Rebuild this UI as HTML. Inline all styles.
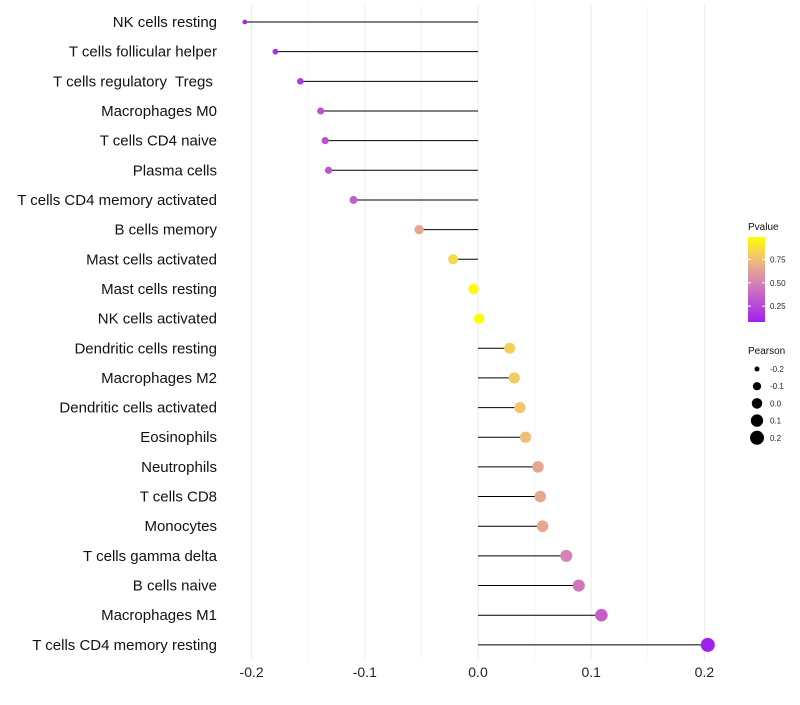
<!DOCTYPE html>
<html><head><meta charset="utf-8"><style>
body{margin:0;background:#fff;font-family:"Liberation Sans",sans-serif}
text{white-space:pre}
</style></head><body>
<svg id="c" width="800" height="700" xmlns="http://www.w3.org/2000/svg" xml:space="preserve"></svg>
<script>
const categories=["NK cells resting","T cells follicular helper","T cells regulatory  Tregs ","Macrophages M0","T cells CD4 naive","Plasma cells","T cells CD4 memory activated","B cells memory","Mast cells activated","Mast cells resting","NK cells activated","Dendritic cells resting","Macrophages M2","Dendritic cells activated","Eosinophils","Neutrophils","T cells CD8","Monocytes","T cells gamma delta","B cells naive","Macrophages M1","T cells CD4 memory resting"];
const pearson=[-0.206,-0.179,-0.157,-0.139,-0.135,-0.132,-0.110,-0.052,-0.022,-0.004,0.001,0.028,0.032,0.037,0.042,0.053,0.055,0.057,0.078,0.089,0.109,0.203];
const pvalues=[0.1,0.15,0.2,0.3,0.3,0.32,0.35,0.65,0.85,0.97,0.99,0.82,0.8,0.78,0.75,0.65,0.65,0.65,0.5,0.45,0.35,0.08];
const xTicks=[-0.2,-0.1,0.0,0.1,0.2];
const xTickLabels=["-0.2","-0.1","0.0","0.1","0.2"];
const legendSizes=[-0.2,-0.1,0.0,0.1,0.2];
const legendP=[0.75,0.5,0.25];

const NS="http://www.w3.org/2000/svg";
const svg=document.getElementById('c');
const X=v=>478+v*1132;
const Y=i=>22+i*29.66;
const R=v=>Math.sqrt(Math.max(4,27.6+107*v));
function mix(a,b,t){return a.map((x,i)=>Math.round(x+(b[i]-x)*t));}
const stops=[[0.08,[160,32,240]],[0.5,[214,130,180]],[0.75,[240,190,120]],[0.99,[255,255,0]]];
function col(p){for(let i=0;i<stops.length-1;i++){if(p<=stops[i+1][0]){const t=Math.max(0,(p-stops[i][0])/(stops[i+1][0]-stops[i][0]));return 'rgb('+mix(stops[i][1],stops[i+1][1],t).join(',')+')';}}return 'rgb(255,255,0)';}
function el(tag,attrs,parent){const e=document.createElementNS(NS,tag);for(const k in attrs)e.setAttribute(k,attrs[k]);(parent||svg).appendChild(e);return e;}

const grid=el('g',{});


for(let v=-0.2;v<=0.2001;v+=0.05){el('line',{x1:X(v),x2:X(v),y1:5,y2:660,stroke:Math.abs(Math.round(v*20))%2?'#f4f4f4':'#ebebeb','stroke-width':1},grid);}

categories.forEach((c,i)=>{
  const t=el('text',{x:217,y:Y(i)+5,'text-anchor':'end','font-size':15,fill:'#111'});
  t.textContent=c;
  
  
  const l=el('line',{x1:X(0),x2:X(pearson[i]),y1:Y(i),y2:Y(i),stroke:'#000','stroke-width':1});
  
  
  const d=el('circle',{cx:X(pearson[i]),cy:Y(i),r:R(pearson[i]),fill:col(pvalues[i])});
  
  
});
xTicks.forEach((v,i)=>{
  const t=el('text',{x:X(v),y:677,'text-anchor':'middle','font-size':14,fill:'#222'});
  t.textContent=xTickLabels[i];
  
  
});
const lt=el('text',{x:748,y:230,'font-size':10,fill:'#111'});lt.textContent='Pvalue';


const defs=el('defs',{});
const g=el('linearGradient',{id:'gr',x1:0,y1:1,x2:0,y2:0},defs);
for(let k=0;k<=10;k++){const p=0.08+k*0.091;el('stop',{offset:k/10,'stop-color':col(p)},g);}
const bar=el('rect',{x:748,y:237,width:17,height:85,fill:'url(#gr)'});


legendP.forEach(p=>{const y=322-(p-0.08)/0.91*85;
  el('line',{x1:748,x2:751,y1:y,y2:y,stroke:'#fff'});el('line',{x1:762,x2:765,y1:y,y2:y,stroke:'#fff'});
  const t=el('text',{x:770,y:y+3,'font-size':8,fill:'#222'});t.textContent=p.toFixed(2);
  
  });
const st=el('text',{x:748,y:354,'font-size':10,fill:'#111'});st.textContent='Pearson';


legendSizes.forEach((v,i)=>{const y=369+i*17.2;
  const c=el('circle',{cx:757,cy:y,r:R(v),fill:'#000'});
  
  
  const t=el('text',{x:770,y:y+3,'font-size':8,fill:'#222'});t.textContent=v.toFixed(1);
  
  });
</script>
</body></html>
